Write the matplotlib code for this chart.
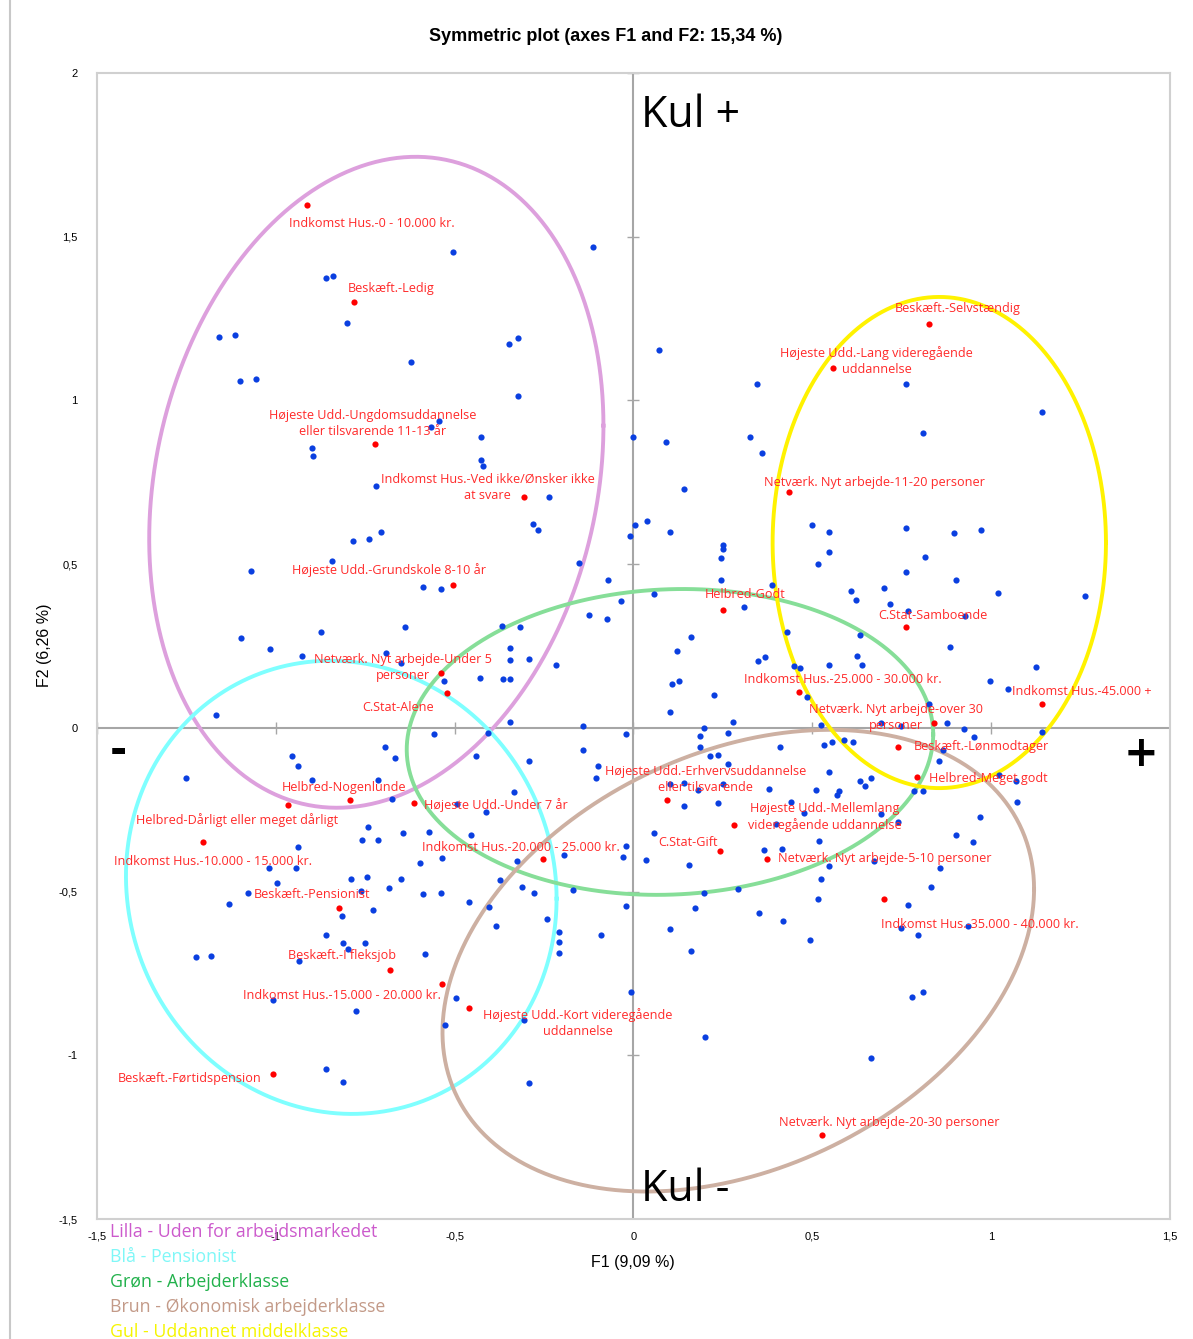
import numpy as np
import matplotlib.pyplot as plt
from matplotlib.lines import Line2D

# blue points (observations), (F1, F2)
obs_points = [
    (-0.506, 1.453), (-0.860, 1.374), (-0.841, 1.380), (-0.802, 1.237), (-1.159, 1.194),
    (-1.115, 1.200), (-0.112, 1.469), (-0.349, 1.173), (-0.324, 1.191), (0.070, 1.154),
    (-0.623, 1.118), (-1.101, 1.060), (-1.056, 1.066), (-0.567, 0.919), (-0.545, 0.937),
    (-0.899, 0.855), (-0.897, 0.831), (-0.721, 0.739), (-0.707, 0.598), (-0.785, 0.571),
    (-0.740, 0.577), (-0.844, 0.510), (-1.070, 0.479), (-0.589, 0.431), (-0.539, 0.424),
    (-0.640, 0.308), (-0.874, 0.293), (-1.098, 0.275), (-0.427, 0.888), (-0.427, 0.818),
    (-0.422, 0.800), (-0.324, 1.014), (-0.237, 0.705), (-0.282, 0.623), (-0.268, 0.605),
    (-0.151, 0.504), (-0.070, 0.452), (-0.036, 0.388), (-0.123, 0.345), (-0.075, 0.333),
    (-0.369, 0.311), (-0.316, 0.308), (0.000, 0.888), (0.092, 0.873), (0.346, 1.050),
    (0.327, 0.888), (0.358, 0.840), (0.142, 0.730), (0.003, 0.620), (0.039, 0.632),
    (-0.011, 0.586), (0.103, 0.598), (0.249, 0.559), (0.249, 0.547), (0.246, 0.519),
    (0.246, 0.452), (0.388, 0.437), (0.056, 0.409), (0.310, 0.369), (0.162, 0.278),
    (0.430, 0.293), (0.500, 0.620), (0.763, 1.050), (1.142, 0.965), (0.810, 0.901),
    (0.763, 0.611), (0.547, 0.598), (0.897, 0.595), (0.972, 0.605), (0.547, 0.537),
    (0.517, 0.501), (0.816, 0.522), (0.763, 0.476), (0.902, 0.452), (0.609, 0.418),
    (0.623, 0.391), (0.701, 0.427), (0.718, 0.379), (1.020, 0.412), (1.263, 0.403),
    (0.768, 0.357), (0.927, 0.342), (0.634, 0.284), (-1.017, 0.241), (-0.927, 0.220),
    (-0.693, 0.229), (-0.651, 0.198), (-0.531, 0.144), (-1.168, 0.040), (-0.559, -0.018),
    (-0.696, -0.058), (-0.668, -0.092), (-0.955, -0.086), (-0.939, -0.116), (-1.251, -0.153),
    (-0.899, -0.159), (-0.715, -0.159), (-0.676, -0.217), (-0.743, -0.302), (-0.760, -0.342),
    (-0.715, -0.342), (-0.645, -0.321), (-0.573, -0.318), (-0.939, -0.363), (-0.536, -0.397),
    (-0.598, -0.412), (-1.020, -0.427), (-0.944, -0.427), (-0.997, -0.473), (-0.791, -0.461),
    (-0.746, -0.455), (-0.651, -0.461), (-0.684, -0.489), (-0.763, -0.498), (-1.078, -0.504),
    (-0.589, -0.507), (-0.539, -0.504), (-1.131, -0.537), (-0.816, -0.574), (-0.729, -0.556),
    (-0.346, 0.244), (-0.346, 0.208), (-0.291, 0.211), (-0.218, 0.192), (-0.430, 0.153),
    (-0.366, 0.150), (-0.346, 0.150), (-0.344, 0.018), (-0.408, -0.015), (-0.142, 0.006),
    (-0.020, -0.018), (-0.439, -0.086), (-0.142, -0.067), (-0.291, -0.101), (-0.098, -0.116),
    (-0.106, -0.153), (-0.335, -0.195), (-0.413, -0.256), (-0.494, -0.232), (-0.453, -0.327),
    (-0.327, -0.406), (-0.193, -0.388), (-0.028, -0.394), (-0.020, -0.360), (0.034, -0.403),
    (-0.374, -0.464), (-0.313, -0.486), (-0.277, -0.504), (-0.168, -0.495), (-0.461, -0.531),
    (-0.405, -0.547), (-0.020, -0.544), (-0.243, -0.583), (-0.383, -0.605), (0.123, 0.235),
    (0.349, 0.205), (0.369, 0.217), (0.450, 0.189), (0.466, 0.183), (0.486, 0.095),
    (0.109, 0.134), (0.128, 0.144), (0.226, 0.101), (0.101, 0.049), (0.279, 0.018),
    (0.196, 0.000), (0.187, -0.024), (0.265, -0.015), (0.187, -0.058), (0.411, -0.058),
    (0.215, -0.086), (0.237, -0.082), (0.263, -0.110), (0.101, -0.171), (0.140, -0.168),
    (0.179, -0.189), (0.251, -0.171), (0.380, -0.186), (0.511, -0.189), (0.140, -0.238),
    (0.235, -0.229), (0.441, -0.226), (0.478, -0.260), (0.399, -0.293), (0.056, -0.321),
    (0.366, -0.373), (0.416, -0.369), (0.154, -0.418), (0.196, -0.504), (0.293, -0.492),
    (0.173, -0.550), (0.352, -0.565), (0.419, -0.589), (0.103, -0.614), (0.885, 0.247),
    (0.626, 0.220), (0.640, 0.192), (0.547, 0.192), (1.126, 0.186), (0.997, 0.144),
    (1.047, 0.119), (0.827, 0.073), (0.877, 0.015), (0.693, 0.015), (0.749, 0.006),
    (0.525, 0.009), (0.925, -0.003), (0.953, -0.027), (1.142, -0.012), (0.534, -0.052),
    (0.556, -0.043), (0.589, -0.037), (0.615, -0.043), (0.866, -0.067), (0.855, -0.101),
    (0.547, -0.134), (0.634, -0.162), (0.648, -0.177), (0.665, -0.153), (0.575, -0.192),
    (0.570, -0.205), (0.785, -0.192), (0.810, -0.192), (1.022, -0.144), (1.070, -0.162),
    (1.073, -0.226), (0.969, -0.272), (0.693, -0.263), (0.740, -0.287), (0.902, -0.327),
    (0.950, -0.348), (0.520, -0.345), (0.673, -0.406), (0.547, -0.421), (0.858, -0.427),
    (0.525, -0.461), (0.832, -0.486), (0.517, -0.522), (0.768, -0.540), (0.749, -0.611),
    (0.936, -0.605), (-0.860, -0.632), (-0.813, -0.656), (-0.799, -0.675), (-0.751, -0.656),
    (-1.223, -0.699), (-1.182, -0.696), (-0.936, -0.711), (-0.584, -0.690), (-1.008, -0.831),
    (-0.777, -0.864), (-0.497, -0.824), (-0.528, -0.907), (-0.860, -1.041), (-0.813, -1.081),
    (-0.209, -0.623), (-0.209, -0.653), (-0.207, -0.687), (-0.092, -0.632), (0.162, -0.681),
    (0.494, -0.647), (-0.008, -0.806), (-0.307, -0.892), (0.201, -0.944), (-0.291, -1.084),
    (0.796, -0.632), (0.779, -0.821), (0.810, -0.806), (0.665, -1.008),
]

# red points (active categories)
cat_names = [
    "Indkomst Hus.-0 - 10.000 kr.",
    "Beskæft.-Ledig",
    "Højeste Udd.-Ungdomsuddannelse\neller tilsvarende 11-13 år",
    "Indkomst Hus.-Ved ikke/Ønsker ikke\nat svare",
    "Højeste Udd.-Grundskole 8-10 år",
    "Netværk. Nyt arbejde-Under 5\npersoner",
    "C.Stat-Alene",
    "Helbred-Nogenlunde",
    "Helbred-Dårligt eller meget dårligt",
    "Indkomst Hus.-10.000 - 15.000 kr.",
    "Højeste Udd.-Under 7 år",
    "Beskæft.-Pensionist",
    "Beskæft.-I fleksjob",
    "Indkomst Hus.-15.000 - 20.000 kr.",
    "Højeste Udd.-Kort videregående\nuddannelse",
    "Beskæft.-Førtidspension",
    "Indkomst Hus.-20.000 - 25.000 kr.",
    "Højeste Udd.-Erhvervsuddannelse\neller tilsvarende",
    "Højeste Udd.-Mellemlang\nvideregående uddannelse",
    "C.Stat-Gift",
    "Netværk. Nyt arbejde-5-10 personer",
    "Indkomst Hus.-35.000 - 40.000 kr.",
    "Netværk. Nyt arbejde-20-30 personer",
    "Helbred-Godt",
    "Netværk. Nyt arbejde-11-20 personer",
    "Beskæft.-Selvstændig",
    "Højeste Udd.-Lang videregående\nuddannelse",
    "C.Stat-Samboende",
    "Indkomst Hus.-25.000 - 30.000 kr.",
    "Indkomst Hus.-45.000 +",
    "Netværk. Nyt arbejde-over 30\npersoner",
    "Beskæft.-Lønmodtager",
    "Helbred-Meget godt",
]
cat_f1 = [-0.913, -0.782, -0.723, -0.307, -0.506, -0.539, -0.522, -0.793, -0.966, -1.204,
          -0.615, -0.824, -0.682, -0.534, -0.461, -1.008, -0.254, 0.095, 0.282, 0.243,
          0.372, 0.701, 0.528, 0.249, 0.436, 0.827, 0.559, 0.763, 0.464, 1.142,
          0.841, 0.740, 0.793]
cat_f2 = [1.597, 1.301, 0.867, 0.705, 0.437, 0.168, 0.107, -0.220, -0.235, -0.348,
          -0.229, -0.550, -0.739, -0.782, -0.855, -1.056, -0.400, -0.220, -0.296, -0.376,
          -0.400, -0.522, -1.243, 0.360, 0.721, 1.234, 1.099, 0.308, 0.110, 0.073,
          0.015, -0.058, -0.150]
# label offsets from the point, in pixels
label_offsets = [(65, -19), (37, 13), (-2, 20), (-36, 10), (-64, 15), (-38, 5), (-49, -15),
                 (-6, 12), (-51, -15), (10, -20), (82, -2), (-27, 13), (-48, 14), (-101, -12),
                 (109, -15), (-83, -5), (-22, 11), (38, 20), (90, 8), (-32, 8), (118, 0),
                 (96, -26), (67, 12), (23, 15), (85, 9), (28, 15), (43, 7), (26, 12),
                 (43, 12), (40, 12), (-38, 5), (83, 0), (71, -2)]

# group ellipses: centre, half-width, half-height, tilt, colour
groups = ["Lilla - Uden for arbejdsmarkedet", "Blå - Pensionist", "Grøn - Arbejderklasse",
          "Brun - Økonomisk arbejderklasse", "Gul - Uddannet middelklasse"]
group_colors = ["#DDA0DD", "#7FFFFF", "#86DE98", "#CDB0A2", "#FFF200"]
text_colors = ["#CC5ACC", "#7FF7F7", "#22B14C", "#C39A88", "#F5F500"]
ell_cx = [-0.719, -0.817, 0.102, 0.293, 0.855]
ell_cy = [0.750, -0.487, -0.043, -0.711, 0.566]
ell_rx = [0.635, 0.602, 0.736, 0.827, 0.466]
ell_ry = [0.994, 0.692, 0.467, 0.705, 0.750]
ell_tilt = [0.174, -0.05, 0.05, 0.31, 0.0]

fig = plt.figure(figsize=(11.93, 13.39), dpi=100)
ax = fig.add_axes([0.0813, 0.0896, 0.8994, 0.8559])

obs = np.array(obs_points)
ax.axhline(0, color='#A6A6A6', lw=1.5, zorder=1)
ax.axvline(0, color='#A6A6A6', lw=1.5, zorder=1)
ticks = np.arange(-1.5, 2.01, 0.5)
ax.plot(ticks[ticks <= 1.5], np.zeros(7), ls='none', marker='|', ms=8, color='#A6A6A6', zorder=1)
ax.plot(np.zeros(len(ticks)), ticks, ls='none', marker='_', ms=8, color='#A6A6A6', zorder=1)

t = np.linspace(0, 2 * np.pi, 400)
for cx, cy, rx, ry, c, col in zip(ell_cx, ell_cy, ell_rx, ell_ry, ell_tilt, group_colors):
    phi = np.arccos(c)
    ax.plot(cx + rx * np.cos(t), cy + ry * np.cos(t - phi), color=col, lw=2.8, zorder=2)

ax.scatter(obs[:, 0], obs[:, 1], s=20, color='#0A3FE0', zorder=3, linewidths=0)
ax.scatter(cat_f1, cat_f2, s=20, color='#FF0000', zorder=4, linewidths=0)
for name, x, y, off in zip(cat_names, cat_f1, cat_f2, label_offsets):
    ax.annotate(name, (x, y), xytext=off, textcoords='offset pixels', ha='center', va='center',
                color='#FF2A2A', fontsize=9.1, family='Open Sans', linespacing=1.3, zorder=5)

ax.text(0.02, 1.87, "Kul +", fontsize=31, family='Open Sans', va='center', ha='left')
ax.text(0.02, -1.41, "Kul -", fontsize=31, family='Open Sans', va='center', ha='left')
ax.text(-1.44, -0.07, "-", fontsize=30, fontweight='bold', va='center', ha='center')
ax.text(1.42, -0.08, "+", fontsize=30, fontweight='bold', va='center', ha='center')

ax.set_xlim(-1.5, 1.5)
ax.set_ylim(-1.5, 2)
ax.set_xticks(np.arange(-1.5, 1.51, 0.5))
ax.set_yticks(ticks)
fmt = lambda v: ('%g' % v).replace('.', ',')
ax.set_xticklabels([fmt(v) for v in np.arange(-1.5, 1.51, 0.5)], fontsize=8, family='Liberation Sans')
ax.set_yticklabels([fmt(v) for v in ticks], fontsize=8, family='Liberation Sans')
ax.tick_params(length=0)
ax.tick_params(axis='x', pad=9)
ax.tick_params(axis='y', pad=14)
for sp in ax.spines.values():
    sp.set_color('#D0D0D0')
    sp.set_linewidth(1.5)

fig.text(0.508, 0.9724, "Symmetric plot (axes F1 and F2: 15,34 %)", ha='center', va='center',
         fontsize=13, fontweight='bold', family='Liberation Sans')
fig.text(0.5306, 0.0575, "F1 (9,09 %)", ha='center', va='center', fontsize=11.5, family='Liberation Sans')
fig.text(0.0377, 0.518, "F2 (6,26 %)", ha='center', va='center', rotation=90, fontsize=11.5,
         family='Liberation Sans')

legend_y = [0.0799, 0.0612, 0.0425, 0.0239, 0.0052]
for g, col, yy in zip(groups, text_colors, legend_y):
    fig.text(0.0922, yy, g, color=col, fontsize=12.8, family='Open Sans', va='center', ha='left')

fig.add_artist(Line2D([0.0085, 0.0085], [0, 1], color='#C8C8C8', lw=1.5))

fig.savefig('out.png', dpi=100)
